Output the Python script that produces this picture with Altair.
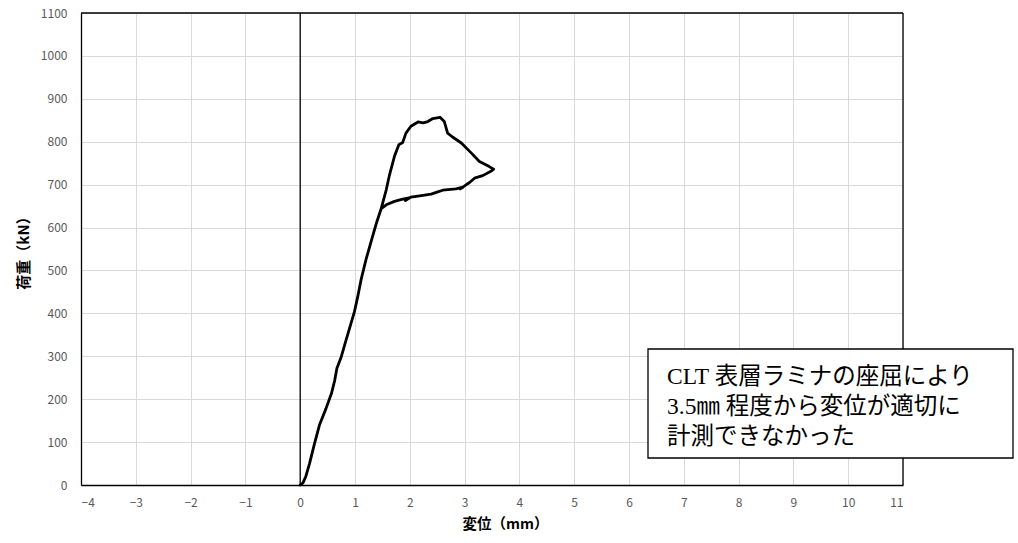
import altair as alt
import pandas as pd

# Load–displacement curve (displacement in mm, load in kN)
disp = [0.00, 0.05, 0.10, 0.17, 0.26, 0.35, 0.47, 0.57, 0.63, 0.67, 0.75, 0.81,
        0.90, 0.99, 1.05, 1.11, 1.20, 1.30, 1.39, 1.48, 1.57, 1.63, 1.72, 1.80,
        1.87, 1.93, 2.02, 2.15, 2.24, 2.33, 2.42, 2.55, 2.63, 2.69, 2.78, 2.94,
        3.12, 3.27, 3.45, 3.53, 3.48, 3.33, 3.18, 3.09, 3.00, 2.92, 2.97, 2.84,
        2.60, 2.51, 2.39, 2.18, 2.02, 1.92, 1.99, 1.87, 1.72, 1.57, 1.48]
load = [0, 5, 19, 50, 96, 139, 178, 213, 244, 272, 299, 326,
        365, 404, 439, 478, 525, 570, 610, 645, 688, 723, 766, 793,
        798, 820, 836, 846, 844, 847, 854, 857, 847, 820, 811, 797,
        774, 754, 742, 736, 731, 721, 715, 705, 697, 690, 694, 690,
        687, 683, 678, 674, 671, 663, 669, 666, 661, 653, 644]

x_ticks = list(range(-4, 12))
y_ticks = list(range(0, 1101, 100))

note_lines = ["CLT 表層ラミナの座屈により", "3.5㎜ 程度から変位が適切に", "計測できなかった"]

W, H = 822, 472
AX_FONT = "Noto Sans CJK JP"

curve = pd.DataFrame({"disp": disp, "load": load, "seq": range(len(disp))})
zero_df = pd.DataFrame({"disp": [0]})
note_df = pd.DataFrame({"note": ["\n".join(note_lines)]})

x_scale = alt.Scale(domain=[-4, 11], nice=False, zero=False)
y_scale = alt.Scale(domain=[0, 1100], nice=False)

x_axis = alt.Axis(values=x_ticks, format="d", title="変位（mm）", grid=True, gridColor="#d9d9d9",
                  ticks=False, labelPadding=12, labelFontSize=12, labelColor="#595959",
                  labelFont=AX_FONT, domainColor="#000000", domainWidth=1.3,
                  titleFont=AX_FONT, titleFontSize=14.5, titleFontWeight="bold",
                  titleColor="#000000", titlePadding=9, titleX=424, titleAnchor="middle")
y_axis = alt.Axis(values=y_ticks, format="d", title="荷重（kN）", grid=True, gridColor="#d9d9d9",
                  ticks=False, labelPadding=14, labelFontSize=12, labelColor="#595959",
                  labelFont=AX_FONT, domainColor="#000000", domainWidth=1.3,
                  titleFont=AX_FONT, titleFontSize=15, titleFontWeight="bold",
                  titleColor="#000000", titlePadding=9)

line = alt.Chart(curve).mark_line(color="black", strokeWidth=2.8,
                                  strokeJoin="round", strokeCap="round").encode(
    x=alt.X("disp:Q", scale=x_scale, axis=x_axis),
    y=alt.Y("load:Q", scale=y_scale, axis=y_axis),
    order="seq:Q",
)

zero_rule = alt.Chart(zero_df).mark_rule(color="black", strokeWidth=1.3).encode(
    x=alt.X("disp:Q", scale=x_scale),
    y=alt.value(0), y2=alt.value(H),
)

# top and right edges of the plot frame
frame_top = alt.Chart(zero_df).mark_rule(color="black", strokeWidth=1.3).encode(
    x=alt.value(0), x2=alt.value(W), y=alt.value(0))
frame_right = alt.Chart(zero_df).mark_rule(color="black", strokeWidth=1.3).encode(
    x=alt.value(W), y=alt.value(0), y2=alt.value(H))

note_box = alt.Chart(note_df).mark_rect(fill="white", stroke="black", strokeWidth=1.3).encode(
    x=alt.value(567), x2=alt.value(932), y=alt.value(336), y2=alt.value(445))
note_text = alt.Chart(note_df).mark_text(
    align="left", baseline="middle", lineBreak="\n", lineHeight=30,
    font="Liberation Serif, Noto Sans CJK JP", fontSize=23.5, color="black").encode(
    x=alt.value(586), y=alt.value(364), text="note:N")

chart = alt.layer(zero_rule, line, frame_top, frame_right, note_box, note_text).properties(
    width=W, height=H,
    padding={"left": 81, "top": 13, "right": 115, "bottom": 58},
    autosize=alt.AutoSizeParams(type="none"),
).configure_view(strokeWidth=0).configure(background="white")

chart.save("out.html", embed_options={"renderer": "svg", "actions": False})
